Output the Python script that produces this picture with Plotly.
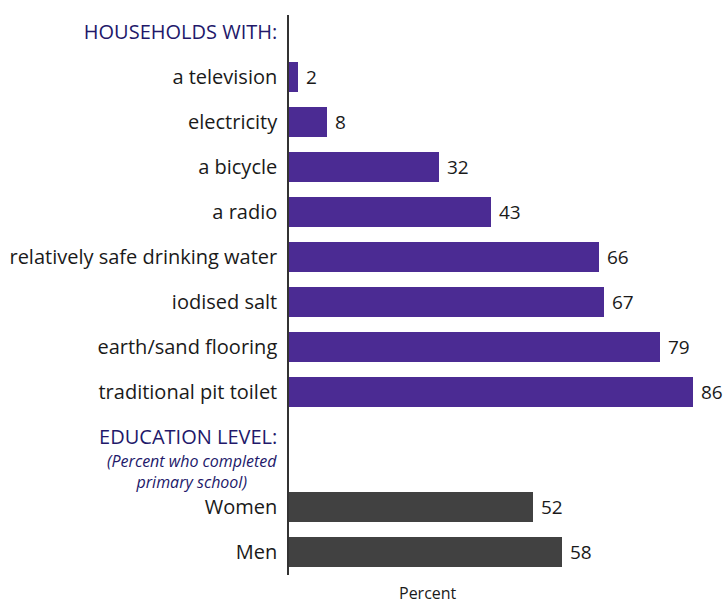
import plotly.graph_objects as go

household_items = ["a television", "electricity", "a bicycle", "a radio",
                   "relatively safe drinking water", "iodised salt",
                   "earth/sand flooring", "traditional pit toilet"]
household_values = [2, 8, 32, 43, 66, 67, 79, 86]
education_groups = ["Women", "Men"]
education_values = [52, 58]
header_households = "HOUSEHOLDS WITH:"
header_education = "EDUCATION LEVEL:"
education_note = ["(Percent who completed", "primary school)"]
axis_title = "Percent"

PURPLE = "#4b2b93"
GRAY = "#414141"
NAVY = "#22186a"
TEXT = "#1a1a1a"
FONT = "Open Sans"

# row layout (one unit = one row)
hh_header_pos = 0
hh_pos = [i + 1 for i in range(len(household_items))]
edu_header_pos = len(household_items) + 1
edu_pos = [edu_header_pos + 1.55 + i for i in range(len(education_groups))]

fig = go.Figure()
fig.add_trace(go.Bar(
    x=household_values, y=hh_pos, orientation="h", width=0.67,
    marker=dict(color=PURPLE, line=dict(width=0)),
    text=[" " + str(v) for v in household_values], textposition="outside",
    textfont=dict(family=FONT, size=19, color=TEXT), cliponaxis=False,
    hoverinfo="skip",
))
fig.add_trace(go.Bar(
    x=education_values, y=edu_pos, orientation="h", width=0.67,
    marker=dict(color=GRAY, line=dict(width=0)),
    text=[" " + str(v) for v in education_values], textposition="outside",
    textfont=dict(family=FONT, size=19, color=TEXT), cliponaxis=False,
    hoverinfo="skip",
))

def hdr(s):
    return f"<span style='color:{NAVY}'>{s}</span>"

tickvals = [hh_header_pos] + hh_pos + [edu_header_pos] + edu_pos
ticktext = [hdr(header_households)] + household_items + [hdr(header_education)] + education_groups

W, H = 726, 605
top_px, bot_px, row_px, first_px = 15, 575, 45, 32
left_px = 289
y_top = (top_px - first_px) / row_px
y_bot = (bot_px - first_px) / row_px

fig.update_layout(
    width=W, height=H,
    margin=dict(l=left_px, r=0, t=top_px, b=H - bot_px, autoexpand=False),
    plot_bgcolor="white", paper_bgcolor="white",
    showlegend=False, bargap=0,
    font=dict(family=FONT, size=20, color=TEXT),
    uniformtext=dict(minsize=19, mode="show"),
    xaxis=dict(range=[0, 93], showgrid=False, zeroline=False,
               showticklabels=False, showline=False, ticks="",
               automargin=False),
    yaxis=dict(range=[y_bot, y_top], tickvals=tickvals, ticktext=ticktext,
               showgrid=False, zeroline=False, showline=True,
               linecolor="#333333", linewidth=1.5, ticks="",
               ticklabelstandoff=6, automargin=False,
               tickfont=dict(family=FONT, size=20, color=TEXT)),
    annotations=[
        dict(text="<i>" + "<br>".join(education_note) + "</i>",
             xref="paper", yref="y",
             x=(192 - left_px) / (W - left_px),
             y=(471 - first_px) / row_px,
             xanchor="center", yanchor="middle", align="center",
             showarrow=False,
             font=dict(family=FONT, size=16, color=NAVY)),
        dict(text=axis_title, xref="paper", yref="paper",
             x=(428 - left_px) / (W - left_px),
             y=-(593 - bot_px) / (bot_px - top_px),
             xanchor="center", yanchor="middle", showarrow=False,
             font=dict(family=FONT, size=16, color=TEXT)),
    ],
)

fig.write_html("out.html", config={"displayModeBar": False},
               post_script="document.body.style.margin='0';document.body.style.overflow='hidden';")
